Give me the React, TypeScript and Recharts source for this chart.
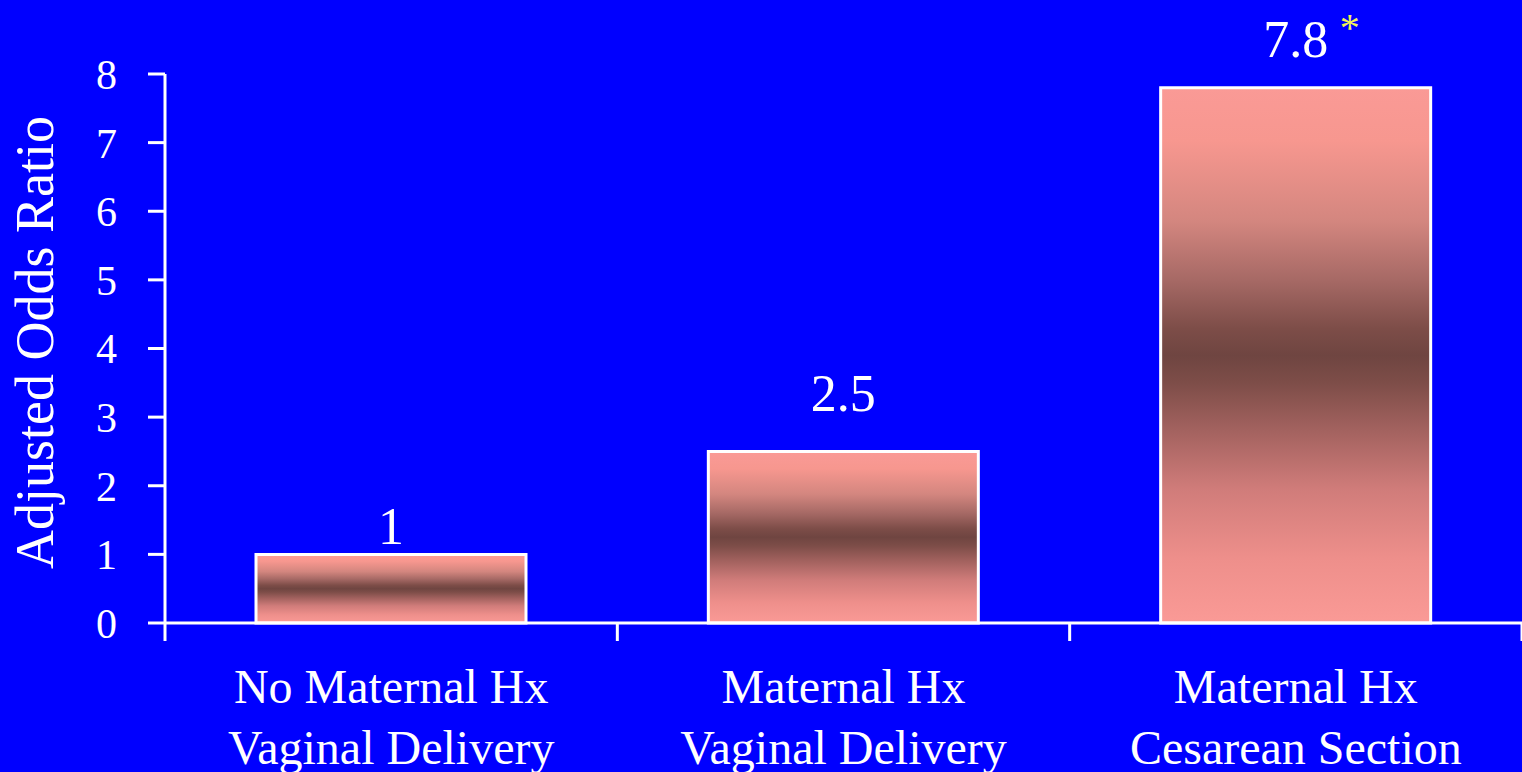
import React from "react";
import {
  BarChart,
  Bar,
  XAxis,
  YAxis,
  LabelList,
  Label,
} from "recharts";

// odds ratio per delivery group, with significance marks for the value labels
const groupTop = ["No Maternal Hx", "Maternal Hx", "Maternal Hx"];
const groupBottom = ["Vaginal Delivery", "Vaginal Delivery", "Cesarean Section"];
const oddsRatios = [1, 2.5, 7.8];
const significance = ["", "", "*"];
const yTicks = [0, 1, 2, 3, 4, 5, 6, 7, 8];
const groupEdges = [0, 1, 2, 3];

const data = groupTop.map((top, i) => ({
  name: `${top} ${groupBottom[i]}`,
  top,
  bottom: groupBottom[i],
  odds: oddsRatios[i],
  mark: significance[i],
  slot: i + 0.5,
}));

const FONT = '"Liberation Serif", "Times New Roman", serif';
const BLUE = "#0000FF";
const WHITE = "#FFFFFF";

// how far each value label sits above its bar
const labelLift = [10, 40, 31];

function GroupTick(props: any) {
  const { x, y, payload, index } = props;
  const d = data[index] ?? data.find((r) => r.name === payload.value);
  return (
    <g>
      <text x={x} y={y + 80} textAnchor="middle" fill={WHITE} fontFamily={FONT} fontSize={48}>
        {d?.top}
      </text>
      <text x={x} y={y + 141} textAnchor="middle" fill={WHITE} fontFamily={FONT} fontSize={48}>
        {d?.bottom}
      </text>
    </g>
  );
}

// boundary axis only shows its tick marks
function NoTick() {
  return <g />;
}

function ValueLabel(props: any) {
  const { x, y, width, value, index } = props;
  const cx = Number(x) + Number(width) / 2;
  const base = Number(y) - (labelLift[index] ?? 20);
  const mark = significance[index];
  return (
    <g>
      <text x={cx} y={base} textAnchor="middle" fill={WHITE} fontFamily={FONT} fontSize={52}>
        {value}
      </text>
      {mark ? (
        <text x={cx + 44} y={base - 16} textAnchor="start" fill="#F2F25A" fontFamily={FONT} fontSize={40}>
          {mark}
        </text>
      ) : null}
    </g>
  );
}

function AxisTitle(props: any) {
  const vb = props.viewBox || { x: 0, y: 74, height: 549 };
  const tx = vb.x + 53;
  const ty = vb.y + vb.height / 2 - 6;
  return (
    <text
      x={tx}
      y={ty}
      transform={`rotate(-90, ${tx}, ${ty})`}
      textAnchor="middle"
      fill={WHITE}
      fontFamily={FONT}
      fontSize={54}
    >
      Adjusted Odds Ratio
    </text>
  );
}

export default function App() {
  return (
    <div
      style={{
        position: "absolute",
        left: 0,
        top: 0,
        width: 1522,
        height: 772,
        background: BLUE,
        overflow: "hidden",
      }}
    >
      <BarChart
        width={1522}
        height={772}
        data={data}
        margin={{ top: 74, right: 0, bottom: 0, left: 0 }}
      >
        <defs>
          {/* pink at both ends, dark brown band through the middle */}
          <linearGradient id="barShade" x1="0" y1="0" x2="0" y2="1">
            <stop offset="0%" stopColor="#FA9A96" />
            <stop offset="10%" stopColor="#F7978F" />
            <stop offset="25%" stopColor="#D3867F" />
            <stop offset="36%" stopColor="#A66965" />
            <stop offset="45%" stopColor="#7D4D48" />
            <stop offset="50%" stopColor="#6F4541" />
            <stop offset="55%" stopColor="#7D4D48" />
            <stop offset="64%" stopColor="#A3625F" />
            <stop offset="75%" stopColor="#D07C7A" />
            <stop offset="88%" stopColor="#EE8F8B" />
            <stop offset="100%" stopColor="#FA9A96" />
          </linearGradient>
        </defs>
        <XAxis
          dataKey="name"
          height={1}
          interval={0}
          tickLine={false}
          tickSize={0}
          tickMargin={0}
          axisLine={{ stroke: WHITE, strokeWidth: 3 }}
          tick={<GroupTick />}
        />
        {/* group boundary ticks below the baseline */}
        <XAxis
          xAxisId="edges"
          dataKey="slot"
          type="number"
          domain={[0, 3]}
          allowDataOverflow
          ticks={groupEdges}
          interval={0}
          height={148}
          axisLine={false}
          tick={<NoTick />}
          tickSize={17}
          tickLine={{ stroke: WHITE, strokeWidth: 3 }}
        />
        <YAxis
          domain={[0, 8]}
          ticks={yTicks}
          interval={0}
          width={165}
          tickSize={17}
          tickMargin={31}
          axisLine={{ stroke: WHITE, strokeWidth: 3 }}
          tickLine={{ stroke: WHITE, strokeWidth: 3 }}
          tick={{ fill: WHITE, fontFamily: FONT, fontSize: 42 }}
        >
          <Label content={<AxisTitle />} />
        </YAxis>
        <Bar
          dataKey="odds"
          barSize={270}
          fill="url(#barShade)"
          stroke={WHITE}
          strokeWidth={3}
          isAnimationActive={false}
        >
          <LabelList dataKey="odds" content={<ValueLabel />} />
        </Bar>
      </BarChart>
    </div>
  );
}
